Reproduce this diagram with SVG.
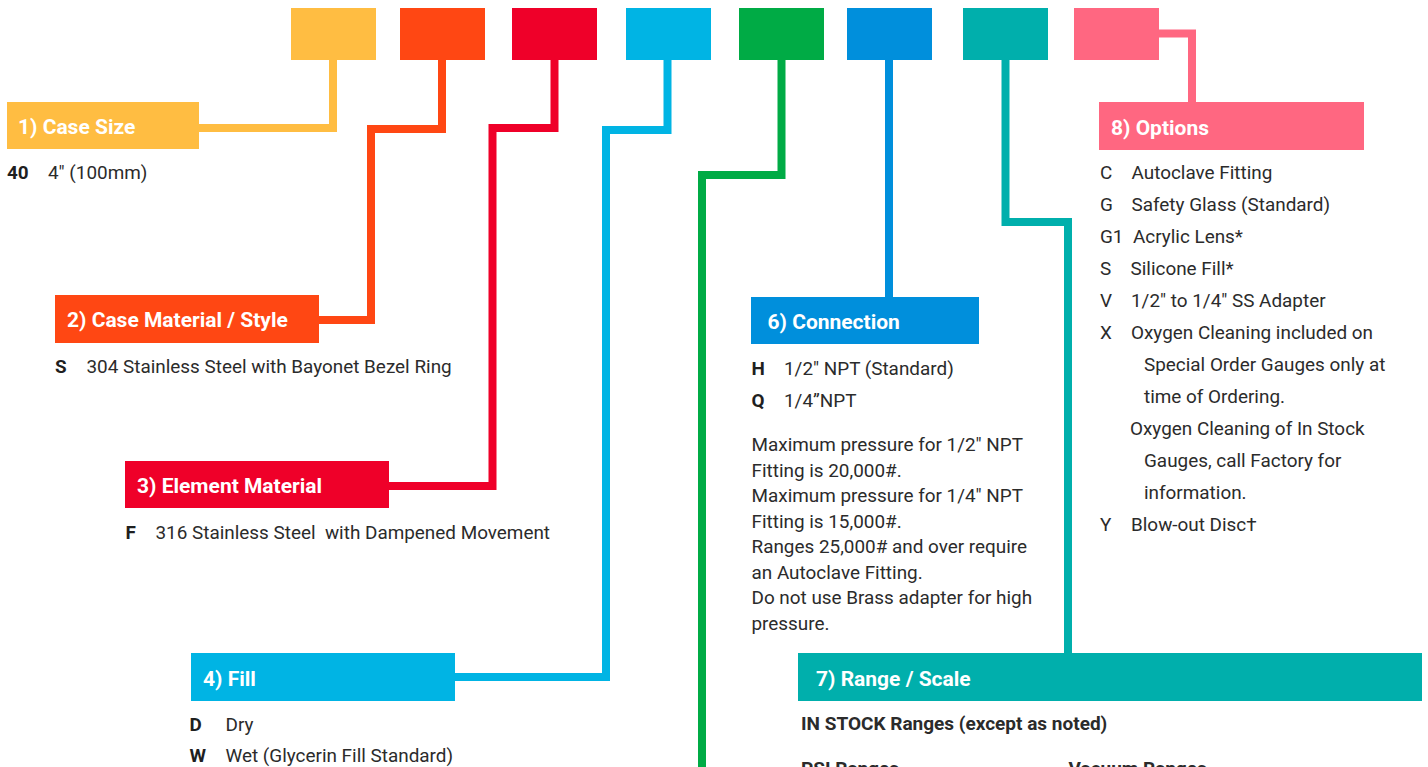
<svg xmlns="http://www.w3.org/2000/svg" width="1428" height="767" viewBox="0 0 1428 767">
<style>
.hdr{font-family:Roboto,"Liberation Sans",sans-serif;font-weight:700;font-size:21px;fill:#fff}
.t{font-family:Roboto,"Liberation Sans",sans-serif;font-size:18.9px;fill:#2b2b2b}
.b{font-family:Roboto,"Liberation Sans",sans-serif;font-size:18.9px;font-weight:700;fill:#1f1f1f}
.bh{font-family:Roboto,"Liberation Sans",sans-serif;font-size:19px;font-weight:700;fill:#2b2b2b}
.c{fill:none;stroke-width:8;stroke-linejoin:miter;stroke-linecap:butt}
</style>
<rect width="1428" height="767" fill="#fff"/>
<g id="code-boxes">
<rect x="291" y="8" width="85" height="52" fill="#FFBD42"/>
<rect x="400" y="8" width="85" height="52" fill="#FF4713"/>
<rect x="512" y="8" width="85" height="52" fill="#EF0029"/>
<rect x="626" y="8" width="85" height="52" fill="#00B4E4"/>
<rect x="739" y="8" width="85" height="52" fill="#00AB45"/>
<rect x="847" y="8" width="85" height="52" fill="#008FDC"/>
<rect x="963" y="8" width="85" height="52" fill="#00AFAC"/>
<rect x="1074" y="8" width="85" height="52" fill="#FF6781"/>
</g>
<g id="connectors">
<path class="c" stroke="#FFBD42" d="M333,60 V128 H199"/>
<path class="c" stroke="#FF4713" d="M442,60 V129 H371 V320 H319"/>
<path class="c" stroke="#EF0029" d="M554.5,60 V128 H492.5 V486 H389"/>
<path class="c" stroke="#00B4E4" d="M667.5,60 V130 H606 V677 H455"/>
<path class="c" stroke="#00AB45" d="M781.5,60 V175 H702 V767"/>
<path class="c" stroke="#008FDC" d="M889,60 V297"/>
<path class="c" stroke="#00AFAC" d="M1005.5,60 V222 H1068 V653"/>
<path class="c" stroke="#FF6781" d="M1159,33.5 H1192 V102"/>
</g>
<g id="case-size">
<rect x="7" y="102" width="192" height="47" fill="#FFBD42"/>
<text class="hdr" x="18" y="134">1) Case Size</text>
<text class="b" x="7" y="179">40</text>
<text class="t" x="48" y="179">4" (100mm)</text>
</g>
<g id="case-material">
<rect x="55" y="295" width="264" height="48" fill="#FF4713"/>
<text class="hdr" x="67" y="327">2) Case Material / Style</text>
<text class="b" x="55" y="373">S</text>
<text class="t" x="86.5" y="373">304 Stainless Steel with Bayonet Bezel Ring</text>
</g>
<g id="element-material">
<rect x="125" y="461" width="264" height="47" fill="#EF0029"/>
<text class="hdr" x="137" y="493">3) Element Material</text>
<text class="b" x="125.5" y="539">F</text>
<text class="t" x="155.5" y="539" xml:space="preserve">316 Stainless Steel  with Dampened Movement</text>
</g>
<g id="fill">
<rect x="191" y="653" width="264" height="48" fill="#00B4E4"/>
<text class="hdr" x="203" y="686">4) Fill</text>
<text class="b" x="189.5" y="731">D</text>
<text class="t" x="225.5" y="731">Dry</text>
<text class="b" x="189.5" y="762">W</text>
<text class="t" x="225.5" y="762">Wet (Glycerin Fill Standard)</text>
</g>
<g id="connection">
<rect x="751" y="297" width="228" height="47" fill="#008FDC"/>
<text class="hdr" x="767.5" y="329">6) Connection</text>
<text class="b" x="751.5" y="375">H</text>
<text class="t" x="784" y="375">1/2" NPT (Standard)</text>
<text class="b" x="751.5" y="407">Q</text>
<text class="t" x="784" y="407">1/4”NPT</text>
<text class="t" x="751.5" y="451">Maximum pressure for 1/2" NPT</text>
<text class="t" x="751.5" y="476.5">Fitting is 20,000#.</text>
<text class="t" x="751.5" y="502">Maximum pressure for 1/4" NPT</text>
<text class="t" x="751.5" y="527.5">Fitting is 15,000#.</text>
<text class="t" x="751.5" y="553">Ranges 25,000# and over require</text>
<text class="t" x="751.5" y="578.5">an Autoclave Fitting.</text>
<text class="t" x="751.5" y="604">Do not use Brass adapter for high</text>
<text class="t" x="751.5" y="629.5">pressure.</text>
</g>
<g id="range-scale">
<rect x="798" y="653" width="624" height="48" fill="#00AFAC"/>
<text class="hdr" x="816" y="686">7) Range / Scale</text>
<text class="bh" x="801" y="730">IN STOCK Ranges (except as noted)</text>
<text class="bh" x="801" y="775">PSI Ranges</text>
<text class="bh" x="1068.5" y="775">Vacuum Ranges</text>
</g>
<g id="options">
<rect x="1099" y="102" width="265" height="48" fill="#FF6781"/>
<text class="hdr" x="1111" y="135">8) Options</text>
<text class="t" x="1100" y="179">C</text><text class="t" x="1131.5" y="179">Autoclave Fitting</text>
<text class="t" x="1100" y="211">G</text><text class="t" x="1131.5" y="211">Safety Glass (Standard)</text>
<text class="t" x="1100" y="243">G1</text><text class="t" x="1133" y="243">Acrylic Lens*</text>
<text class="t" x="1100" y="275">S</text><text class="t" x="1130.5" y="275">Silicone Fill*</text>
<text class="t" x="1100" y="307">V</text><text class="t" x="1131" y="307">1/2" to 1/4" SS Adapter</text>
<text class="t" x="1100" y="339">X</text><text class="t" x="1131" y="339">Oxygen Cleaning included on</text>
<text class="t" x="1144" y="371">Special Order Gauges only at</text>
<text class="t" x="1144" y="403">time of Ordering.</text>
<text class="t" x="1130" y="435">Oxygen Cleaning of In Stock</text>
<text class="t" x="1144" y="467">Gauges, call Factory for</text>
<text class="t" x="1144" y="499">information.</text>
<text class="t" x="1100" y="531">Y</text><text class="t" x="1131" y="531">Blow-out Disc†</text>
</g>
</svg>
